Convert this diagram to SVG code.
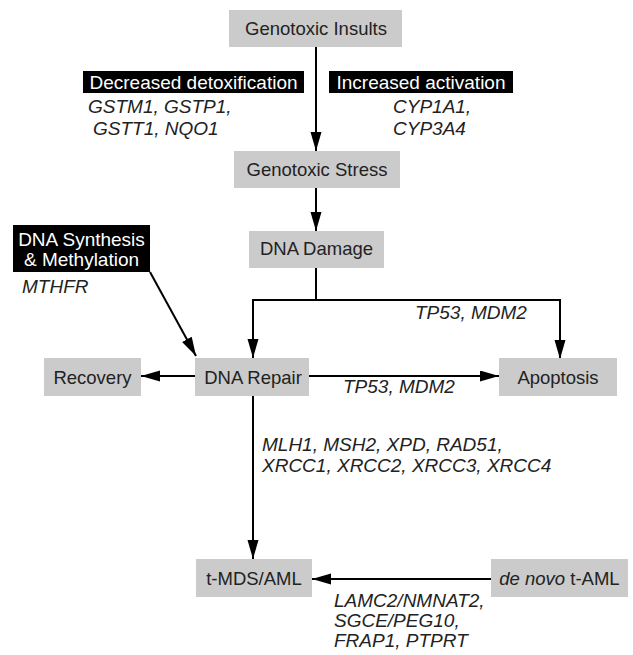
<svg xmlns="http://www.w3.org/2000/svg" width="633" height="655" viewBox="0 0 633 655">
<style>
.box{fill:#cbcbcb;}
.blk{fill:#000;}
.lbl{font-family:"Liberation Sans",Arial,sans-serif;font-size:18.5px;fill:#222;text-anchor:middle;}
.wt{font-family:"Liberation Sans",Arial,sans-serif;font-size:19px;fill:#fff;text-anchor:middle;}
.it{font-family:"Liberation Sans",Arial,sans-serif;font-size:19px;font-style:italic;fill:#222;}
.ln{fill:none;stroke:#000;stroke-width:2;}
</style>
<defs>
<marker id="ah" markerUnits="userSpaceOnUse" markerWidth="20" markerHeight="12" refX="19" refY="5.5" orient="auto">
<path d="M0,0 L19,5.5 L0,11 z" fill="#000"/>
</marker>
</defs>
<rect width="633" height="655" fill="#fff"/>
<g id="connectors">
<path class="ln" d="M316,47 V151" marker-end="url(#ah)"/>
<path class="ln" d="M316,188 V231" marker-end="url(#ah)"/>
<path class="ln" d="M316,268 V300 H253 V358" marker-end="url(#ah)"/>
<path class="ln" d="M316,300 H560 V359" marker-end="url(#ah)"/>
<path class="ln" d="M150,272 L196,356" marker-end="url(#ah)"/>
<path class="ln" d="M195,376 H141" marker-end="url(#ah)"/>
<path class="ln" d="M309,376 H499" marker-end="url(#ah)"/>
<path class="ln" d="M253,395 V559" marker-end="url(#ah)"/>
<path class="ln" d="M491,579 H312" marker-end="url(#ah)"/>
</g>
<g id="insults"><rect class="box" x="229" y="10" width="173" height="37"/><text class="lbl" x="316" y="35">Genotoxic Insults</text></g>
<g id="detox"><rect class="blk" x="83" y="71" width="221" height="22"/><text class="wt" x="193.5" y="89">Decreased detoxification</text>
<text class="it" x="88" y="113">GSTM1, GSTP1,</text><text class="it" x="93" y="135">GSTT1, NQO1</text></g>
<g id="activation"><rect class="blk" x="329" y="71" width="184" height="22"/><text class="wt" x="421" y="89">Increased activation</text>
<text class="it" x="393" y="113">CYP1A1,</text><text class="it" x="393" y="135">CYP3A4</text></g>
<g id="stress"><rect class="box" x="234" y="151" width="166" height="37"/><text class="lbl" x="317" y="176">Genotoxic Stress</text></g>
<g id="damage"><rect class="box" x="249" y="231" width="135" height="37"/><text class="lbl" x="316.5" y="255">DNA Damage</text></g>
<g id="synthesis"><rect class="blk" x="13" y="225" width="137" height="47"/><text class="wt" x="81.5" y="246">DNA Synthesis</text><text class="wt" x="81.5" y="266">&amp; Methylation</text>
<text class="it" x="22" y="293">MTHFR</text></g>
<text class="it" x="415" y="319">TP53, MDM2</text>
<g id="recovery"><rect class="box" x="44" y="358" width="97" height="38"/><text class="lbl" x="92.5" y="384">Recovery</text></g>
<g id="repair"><rect class="box" x="195" y="358" width="114" height="38"/><text class="lbl" x="253" y="384">DNA Repair</text></g>
<g id="apoptosis"><rect class="box" x="499" y="358" width="118" height="38"/><text class="lbl" x="558" y="384">Apoptosis</text></g>
<text class="it" x="343" y="393">TP53, MDM2</text>
<text class="it" x="262" y="451">MLH1, MSH2, XPD, RAD51,</text>
<text class="it" x="262" y="472">XRCC1, XRCC2, XRCC3, XRCC4</text>
<g id="tmds"><rect class="box" x="196" y="559" width="116" height="38"/><text class="lbl" x="254" y="585">t-MDS/AML</text></g>
<g id="denovo"><rect class="box" x="491" y="559" width="137" height="38"/><text class="lbl" x="559.5" y="585"><tspan font-style="italic">de novo</tspan> t-AML</text></g>
<text class="it" x="334" y="607">LAMC2/NMNAT2,</text>
<text class="it" x="334" y="627">SGCE/PEG10,</text>
<text class="it" x="334" y="647">FRAP1, PTPRT</text>
</svg>
